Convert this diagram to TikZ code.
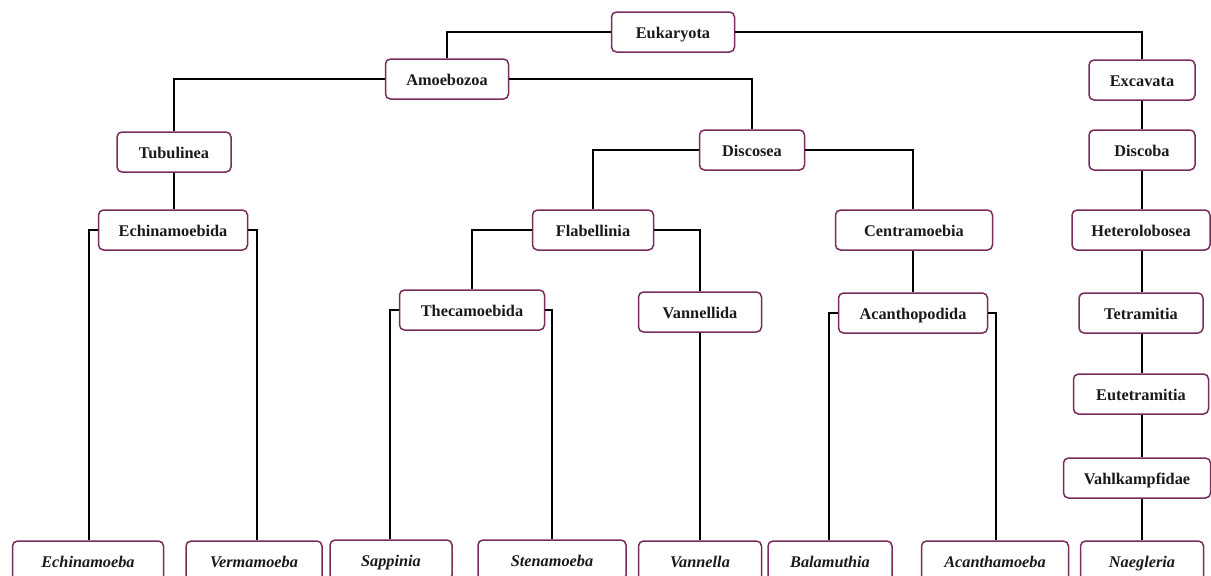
\documentclass[tikz,border=0pt]{standalone}
\usepackage{fontspec}
\setmainfont{Liberation Serif}
\definecolor{boxc}{HTML}{7A2C5C}
\definecolor{txt}{HTML}{1A1A1A}
\tikzset{
  taxon/.style={draw=boxc, line width=1.5pt, rounded corners=5pt, fill=white,
    minimum height=40pt, inner sep=0pt, text=txt, text height=13.5pt, text depth=0pt,
    font=\fontsize{16.3}{18}\selectfont\bfseries},
  genus/.style={taxon, font=\fontsize{16.3}{18}\selectfont\bfseries\itshape},
  link/.style={draw=black, line width=2pt}
}
\begin{document}
\begin{tikzpicture}[x=1pt,y=-1pt]
\path[use as bounding box, clip] (0,0) rectangle (1211,576);
\fill[white] (0,0) rectangle (1211,576);
% level nodes
\node[taxon, minimum width=123pt] (euk) at (673,32) {Eukaryota};
\node[taxon, minimum width=123pt] (amo) at (447,79) {Amoebozoa};
\node[taxon, minimum width=106pt] (exc) at (1142,80) {Excavata};
\node[taxon, minimum width=114pt] (tub) at (174,152) {Tubulinea};
\node[taxon, minimum width=105pt] (dis) at (752,150) {Discosea};
\node[taxon, minimum width=106pt] (dsb) at (1142,150) {Discoba};
\node[taxon, minimum width=149pt] (ecd) at (173,230) {Echinamoebida};
\node[taxon, minimum width=121pt] (fla) at (593,230) {Flabellinia};
\node[taxon, minimum width=157pt] (cen) at (914,230) {Centramoebia};
\node[taxon, minimum width=138pt] (het) at (1141,230) {Heterolobosea};
\node[taxon, minimum width=145pt] (the) at (472,310) {Thecamoebida};
\node[taxon, minimum width=123pt] (van) at (700,312) {Vannellida};
\node[taxon, minimum width=149pt] (aca) at (913,313) {Acanthopodida};
\node[taxon, minimum width=124pt] (tet) at (1141,313) {Tetramitia};
\node[taxon, minimum width=135pt] (eut) at (1141,394) {Eutetramitia};
\node[taxon, minimum width=147pt] (vah) at (1137,478) {Vahlkampfidae};
% genera (bottom row, cut by the picture edge)
\node[genus, minimum width=151pt] (g1) at (88,561) {Echinamoeba};
\node[genus, minimum width=136pt] (g2) at (254,561) {Vermamoeba};
\node[genus, minimum width=122pt] (g3) at (391,560) {Sappinia};
\node[genus, minimum width=148pt] (g4) at (552,560) {Stenamoeba};
\node[genus, minimum width=123pt] (g5) at (700,561) {Vannella};
\node[genus, minimum width=124pt] (g6) at (830,561) {Balamuthia};
\node[genus, minimum width=147pt] (g7) at (995,561) {Acanthamoeba};
\node[genus, minimum width=123pt] (g8) at (1142,561) {Naegleria};
% connectors
\draw[link] (euk.west) -| (amo.north);
\draw[link] (euk.east) -| (exc.north);
\draw[link] (amo.west) -| (tub.north);
\draw[link] (amo.east) -| (dis.north);
\draw[link] (tub.south) -- (tub.south |- ecd.north);
\draw[link] (ecd.west) -- ++(-9,0) coordinate (e1) -- (e1 |- g1.north);
\draw[link] (ecd.east) -- ++(9,0) coordinate (e2) -- (e2 |- g2.north);
\draw[link] (dis.west) -| (fla.north);
\draw[link] (dis.east) -| (aca.north |- cen.north);
\draw[link] (fla.west) -| (the.north);
\draw[link] (fla.east) -| (van.north);
\draw[link] (the.west) -- ++(-9,0) coordinate (t1) -- (t1 |- g3.north);
\draw[link] (the.east) -- ++(7,0) coordinate (t2) -- (t2 |- g4.north);
\draw[link] (van.south) -- (van.south |- g5.north);
\draw[link] (cen.south -| aca.north) -- (aca.north);
\draw[link] (aca.west) -- ++(-9,0) coordinate (a1) -- (a1 |- g6.north);
\draw[link] (aca.east) -- ++(8,0) coordinate (a2) -- (a2 |- g7.north);
\draw[link] (exc.south) -- (dsb.north);
\draw[link] (dsb.south) -- (dsb.south |- het.north);
\draw[link] (exc.south |- het.south) -- (exc.south |- tet.north);
\draw[link] (exc.south |- tet.south) -- (exc.south |- eut.north);
\draw[link] (exc.south |- eut.south) -- (exc.south |- vah.north);
\draw[link] (exc.south |- vah.south) -- (g8.north);
\end{tikzpicture}
\end{document}
